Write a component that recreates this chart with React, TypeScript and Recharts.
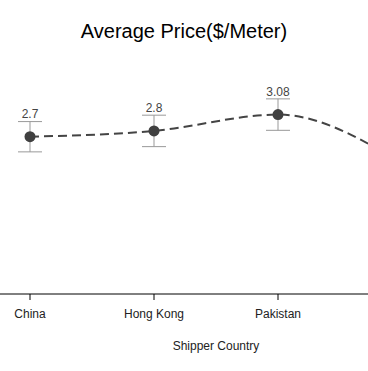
import React from "react";
import { CartesianGrid, ErrorBar, LabelList, Line, LineChart, XAxis, YAxis } from "recharts";

const countries = ["China", "Hong Kong", "Pakistan", "Vietnam"];
const avgPrice = [2.7, 2.8, 3.08, 2.25];
const priceError = [0.26, 0.27, 0.27, 0.27];

const chartData = countries.map((country, i) => ({
  country,
  price: avgPrice[i],
  err: priceError[i],
}));

export default function App() {
  return (
    <div
      style={{
        position: "absolute",
        left: 0,
        top: 0,
        width: 368,
        height: 371,
        overflow: "hidden",
        background: "#fff",
        fontFamily: "'Liberation Sans', Arial, sans-serif",
      }}
    >
      <div
        style={{
          position: "absolute",
          top: 20,
          left: 0,
          width: 368,
          textAlign: "center",
          fontSize: 20,
          color: "#000",
        }}
      >
        Average Price($/Meter)
      </div>
      <div style={{ position: "absolute", left: -32, top: 0 }}>
        <LineChart
          width={496}
          height={371}
          data={chartData}
          margin={{ top: 61, right: 0, bottom: 17, left: 0 }}
        >
          <CartesianGrid stroke="none" />
          <XAxis
            dataKey="country"
            padding={{ left: 62, right: 62 }}
            height={60}
            stroke="#000"
            tickSize={6}
            tickMargin={9}
            tick={{ fill: "#222", fontSize: 12 }}
            label={{
              value: "Shipper Country",
              position: "insideBottom",
              offset: 4,
              fill: "#222",
              fontSize: 12,
            }}
          />
          <YAxis hide domain={[0, 4]} />
          <Line
            type="monotone"
            dataKey="price"
            stroke="#444"
            strokeWidth={2}
            strokeDasharray="9 5"
            dot={{ r: 5.5, fill: "#404040", stroke: "#404040", strokeWidth: 0, strokeDasharray: "" }}
            activeDot={false}
            isAnimationActive={false}
          >
            <ErrorBar dataKey="err" width={12} stroke="#999" strokeWidth={1} direction="y" />
            <LabelList dataKey="price" position="top" offset={19} fill="#444" fontSize={12} />
          </Line>
        </LineChart>
      </div>
    </div>
  );
}
